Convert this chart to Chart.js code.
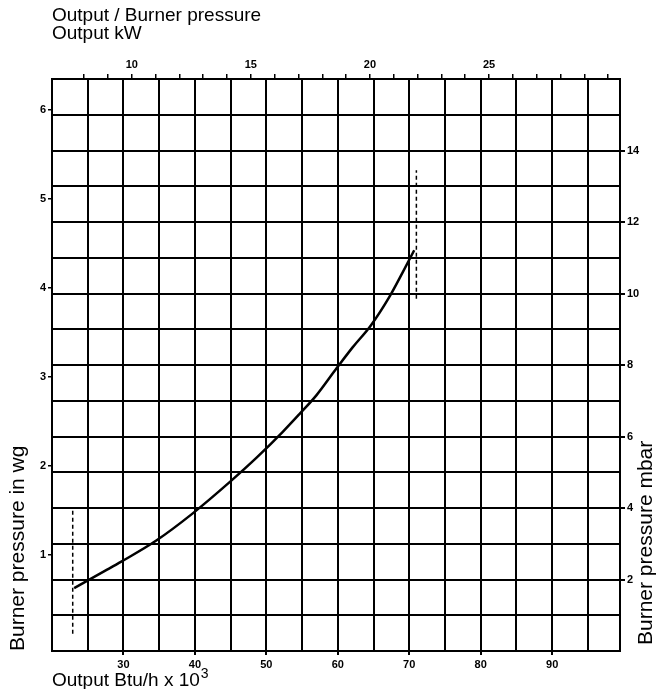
<!DOCTYPE html>
<html>
<head>
<meta charset="utf-8">
<script src="https://cdn.jsdelivr.net/npm/chart.js@4"></script>
<style>
  body { margin: 0; background: #fff; }
  #wrap { width: 659px; height: 689px; }
</style>
</head>
<body>
<div id="wrap"><canvas id="burnerChart"></canvas></div>
<script>
// curve: output in Btu/h x 10^3, pressure in mbar
const btu = [23.1, 27.4, 29.7, 34.6, 39.7, 44.9, 48.6, 52.3, 54.6, 57.0, 59.8, 62.1, 64.6, 67.2, 69.1, 70.7];
const mbar = [1.76, 2.24, 2.50, 3.09, 3.85, 4.73, 5.40, 6.13, 6.62, 7.15, 7.90, 8.50, 9.10, 9.90, 10.60, 11.21];

// dashed limit markers (min / max output)
const minLimit = [{ x: 22.9, y: 0.48 }, { x: 22.9, y: 4.0 }];
const maxLimit = [{ x: 71.0, y: 9.85 }, { x: 71.0, y: 13.45 }];

// axes
const btuRange = [20, 99.5];
const btuGrid = [20, 25, 30, 35, 40, 45, 50, 55, 60, 65, 70, 75, 80, 85, 90, 95];
const btuLabels = [30, 40, 50, 60, 70, 80, 90];
const kwRange = [6.65, 30.5];
const kwTicks = [8, 9, 10, 11, 12, 13, 14, 15, 16, 17, 18, 19, 20, 21, 22, 23, 24, 25, 26, 27, 28, 29, 30];
const kwLabels = [10, 15, 20, 25];
const mbarRange = [0, 16];
const mbarLabels = [2, 4, 6, 8, 10, 12, 14];
const wgRange = [-0.08, 6.35];
const wgLabels = [1, 2, 3, 4, 5, 6];

const FONT = 'Liberation Sans, Arial, sans-serif';
const tickFont = { family: FONT, size: 11, weight: 'bold' };
const titleFont = { family: FONT, size: 19 };
const sideTitleFont = { family: FONT, size: 21 };

const points = btu.map((b, i) => ({ x: b, y: mbar[i] }));

const textPlugin = {
    id: 'extraText',
    afterDraw(chart) {
        const c = chart.ctx;
        const a = chart.chartArea;
        c.save();
        c.fillStyle = '#000';
        c.textBaseline = 'alphabetic';
        c.textAlign = 'left';
        c.font = '19px ' + FONT;
        c.fillText('Output / Burner pressure', a.left, 21);
        // bottom title with a raised exponent
        const base = 'Output Btu/h x 10';
        c.fillText(base, a.left, 686);
        const w = c.measureText(base).width;
        c.font = '14px ' + FONT;
        c.fillText('3', a.left + w + 1, 678);
        // right axis title reads bottom to top
        c.font = '21px ' + FONT;
        c.textBaseline = 'middle';
        c.translate(646, a.bottom - 6);
        c.rotate(-Math.PI / 2);
        c.fillText('Burner pressure mbar', 0, 0);
        c.restore();
    }
};

new Chart(document.getElementById('burnerChart'), {
    type: 'scatter',
    data: {
        datasets: [
            {
                type: 'line',
                data: points,
                borderColor: '#000',
                borderWidth: 2.5,
                pointRadius: 0,
                cubicInterpolationMode: 'monotone',
                xAxisID: 'x',
                yAxisID: 'y'
            },
            {
                type: 'line',
                data: minLimit,
                borderColor: '#000',
                borderWidth: 1.5,
                borderDash: [4, 3],
                pointRadius: 0,
                xAxisID: 'x',
                yAxisID: 'y'
            },
            {
                type: 'line',
                data: maxLimit,
                borderColor: '#000',
                borderWidth: 1.5,
                borderDash: [4, 3],
                pointRadius: 0,
                xAxisID: 'x',
                yAxisID: 'y'
            }
        ]
    },
    options: {
        responsive: true,
        maintainAspectRatio: false,
        animation: false,
        devicePixelRatio: 1,
        layout: { padding: 0 },
        plugins: {
            legend: { display: false },
            tooltip: { enabled: false }
        },
        scales: {
            x: {
                type: 'linear',
                position: 'bottom',
                min: btuRange[0],
                max: btuRange[1],
                afterBuildTicks: s => { s.ticks = btuGrid.map(v => ({ value: v })); },
                afterFit: s => { s.height = 38; },
                grid: {
                    color: '#000',
                    lineWidth: 2,
                    tickLength: 4,
                    tickColor: ctx => btuLabels.includes(ctx.tick.value) ? '#000' : 'rgba(0,0,0,0)'
                },
                border: { color: '#000', width: 2 },
                ticks: {
                    color: '#000',
                    font: tickFont,
                    padding: 3,
                    maxRotation: 0,
                    autoSkip: false,
                    callback: v => btuLabels.includes(v) ? String(v) : ''
                }
            },
            xTop: {
                type: 'linear',
                position: 'top',
                min: kwRange[0],
                max: kwRange[1],
                afterBuildTicks: s => { s.ticks = kwTicks.map(v => ({ value: v })); },
                afterFit: s => { s.height = 79; },
                grid: {
                    drawOnChartArea: false,
                    color: '#000',
                    lineWidth: 1.5,
                    tickLength: 5
                },
                border: { color: '#000', width: 2 },
                ticks: {
                    color: '#000',
                    font: tickFont,
                    padding: 2,
                    maxRotation: 0,
                    autoSkip: false,
                    callback: v => kwLabels.includes(v) ? String(v) : ''
                },
                title: {
                    display: true,
                    text: 'Output kW',
                    align: 'start',
                    color: '#000',
                    font: titleFont,
                    padding: { top: 22, bottom: 0 }
                }
            },
            y: {
                type: 'linear',
                position: 'right',
                min: mbarRange[0],
                max: mbarRange[1],
                ticks: {
                    stepSize: 1,
                    color: '#000',
                    font: tickFont,
                    padding: 2,
                    autoSkip: false,
                    callback: v => mbarLabels.includes(v) ? String(v) : ''
                },
                afterFit: s => { s.width = 39; },
                grid: {
                    color: '#000',
                    lineWidth: 2,
                    tickLength: 5,
                    tickColor: ctx => mbarLabels.includes(ctx.tick.value) ? '#000' : 'rgba(0,0,0,0)'
                },
                border: { color: '#000', width: 2 }
            },
            yWg: {
                type: 'linear',
                position: 'left',
                min: wgRange[0],
                max: wgRange[1],
                afterBuildTicks: s => { s.ticks = wgLabels.map(v => ({ value: v })); },
                afterFit: s => { s.width = 52; },
                grid: {
                    drawOnChartArea: false,
                    color: '#000',
                    lineWidth: 1.5,
                    tickLength: 4
                },
                border: { color: '#000', width: 2 },
                ticks: {
                    color: '#000',
                    font: tickFont,
                    padding: 2,
                    autoSkip: false
                },
                title: {
                    display: true,
                    text: 'Burner pressure in wg',
                    align: 'start',
                    color: '#000',
                    font: sideTitleFont,
                    padding: { top: 6, bottom: 0 }
                }
            }
        }
    },
    plugins: [textPlugin]
});
</script>
</body>
</html>
